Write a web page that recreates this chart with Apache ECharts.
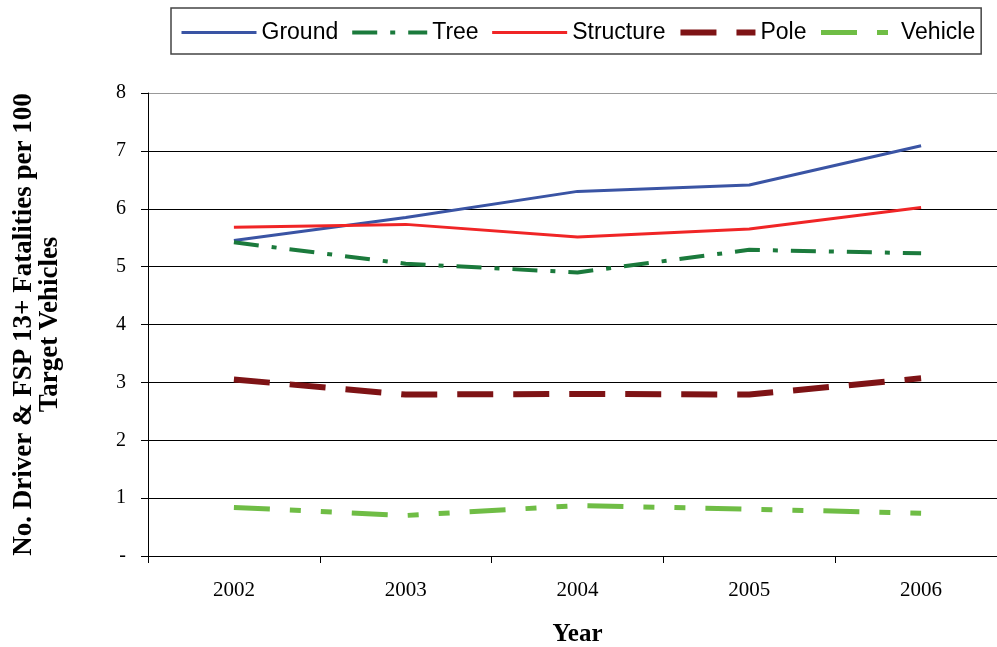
<!DOCTYPE html>
<html lang="en">
<head>
    <meta charset="UTF-8">
    <title>Fatalities per 100 Target Vehicles</title>
    <style>
        body,html{
            margin: 0;
            background: #fff;
            overflow: hidden;
        }
        #chart{
            width: 997px;
            height: 647px;
        }
    </style>
</head>
<body>
<div id="chart"></div>
<script src="https://cdn.jsdelivr.net/npm/echarts@6/dist/echarts.min.js"></script>
<script type="text/javascript">

    // data
    let years = ['2002', '2003', '2004', '2005', '2006'];
    let ground = [5.45, 5.85, 6.30, 6.41, 7.09];
    let tree = [5.42, 5.05, 4.90, 5.29, 5.23];
    let structure = [5.68, 5.73, 5.51, 5.65, 6.02];
    let pole = [3.05, 2.79, 2.80, 2.79, 3.07];
    let vehicle = [0.84, 0.70, 0.87, 0.81, 0.74];
    let yTicks = [0, 1, 2, 3, 4, 5, 6, 7, 8];

    let serif = '"Liberation Serif", "Times New Roman", serif';

    function mkLine(name, data, color, width, dash) {
        return {
            name: name,
            type: 'line',
            data: data,
            symbol: 'none',
            smooth: false,
            lineStyle: {color: color, width: width, type: dash, cap: 'butt'},
            itemStyle: {color: color}
        };
    }

    let myChart = echarts.init(document.getElementById('chart'));
    let option = {
        animation: false,
        // the plot area runs a little past the right edge of the window
        grid: {left: 148, top: 93, width: 859, height: 463, outerBoundsMode: 'none', containLabel: false},
        legend: {
            left: 171,
            top: 8,
            padding: [13, 6, 10, 9],
            itemGap: 12,
            itemWidth: 75,
            itemHeight: 14,
            borderColor: '#444',
            borderWidth: 1.5,
            itemStyle: {opacity: 0},
            lineStyle: {width: 'inherit', type: 'inherit'},
            textStyle: {fontFamily: '"Liberation Sans", Arial, sans-serif', fontSize: 23, color: '#000'},
            data: ['Ground', 'Tree', 'Structure', 'Pole', 'Vehicle']
        },
        xAxis: {
            type: 'category',
            data: years,
            boundaryGap: true,
            name: 'Year',
            nameLocation: 'middle',
            nameGap: 66,
            nameTextStyle: {fontFamily: serif, fontWeight: 'bold', fontSize: 25, color: '#000'},
            axisLine: {lineStyle: {color: '#000', width: 1}},
            axisTick: {show: true, length: 7, lineStyle: {color: '#000'}},
            axisLabel: {fontFamily: serif, fontSize: 21, color: '#000', margin: 24},
            splitLine: {show: false}
        },
        yAxis: {
            type: 'value',
            min: yTicks[0],
            max: yTicks[yTicks.length - 1],
            interval: 1,
            name: 'No. Driver & FSP 13+ Fatalities per 100\nTarget Vehicles',
            nameLocation: 'middle',
            nameRotate: 90,
            nameGap: 85,
            nameTextStyle: {fontFamily: serif, fontWeight: 'bold', fontSize: 27, color: '#000', lineHeight: 26},
            axisLine: {show: true, lineStyle: {color: '#000', width: 1}},
            axisTick: {show: true, length: 7, lineStyle: {color: '#000'}},
            axisLabel: {
                fontFamily: serif, fontSize: 20, color: '#000', margin: 22,
                formatter: function (v) { return v === 0 ? '-' : String(v); }
            },
            splitLine: {
                show: true,
                lineStyle: {color: ['#000', '#000', '#000', '#000', '#000', '#000', '#000', '#000', '#999'], width: 1}
            }
        },
        series: [
            mkLine('Ground', ground, '#3a54a4', 3, 'solid'),
            mkLine('Tree', tree, '#1b7a3c', 4, [25, 13, 5, 13]),
            mkLine('Structure', structure, '#f02526', 3, 'solid'),
            mkLine('Pole', pole, '#7e1315', 6, [36, 20]),
            mkLine('Vehicle', vehicle, '#6fbd45', 5, [36, 20, 11, 20, 11, 20])
        ]
    };
    myChart.setOption(option);
</script>
</body>
</html>
